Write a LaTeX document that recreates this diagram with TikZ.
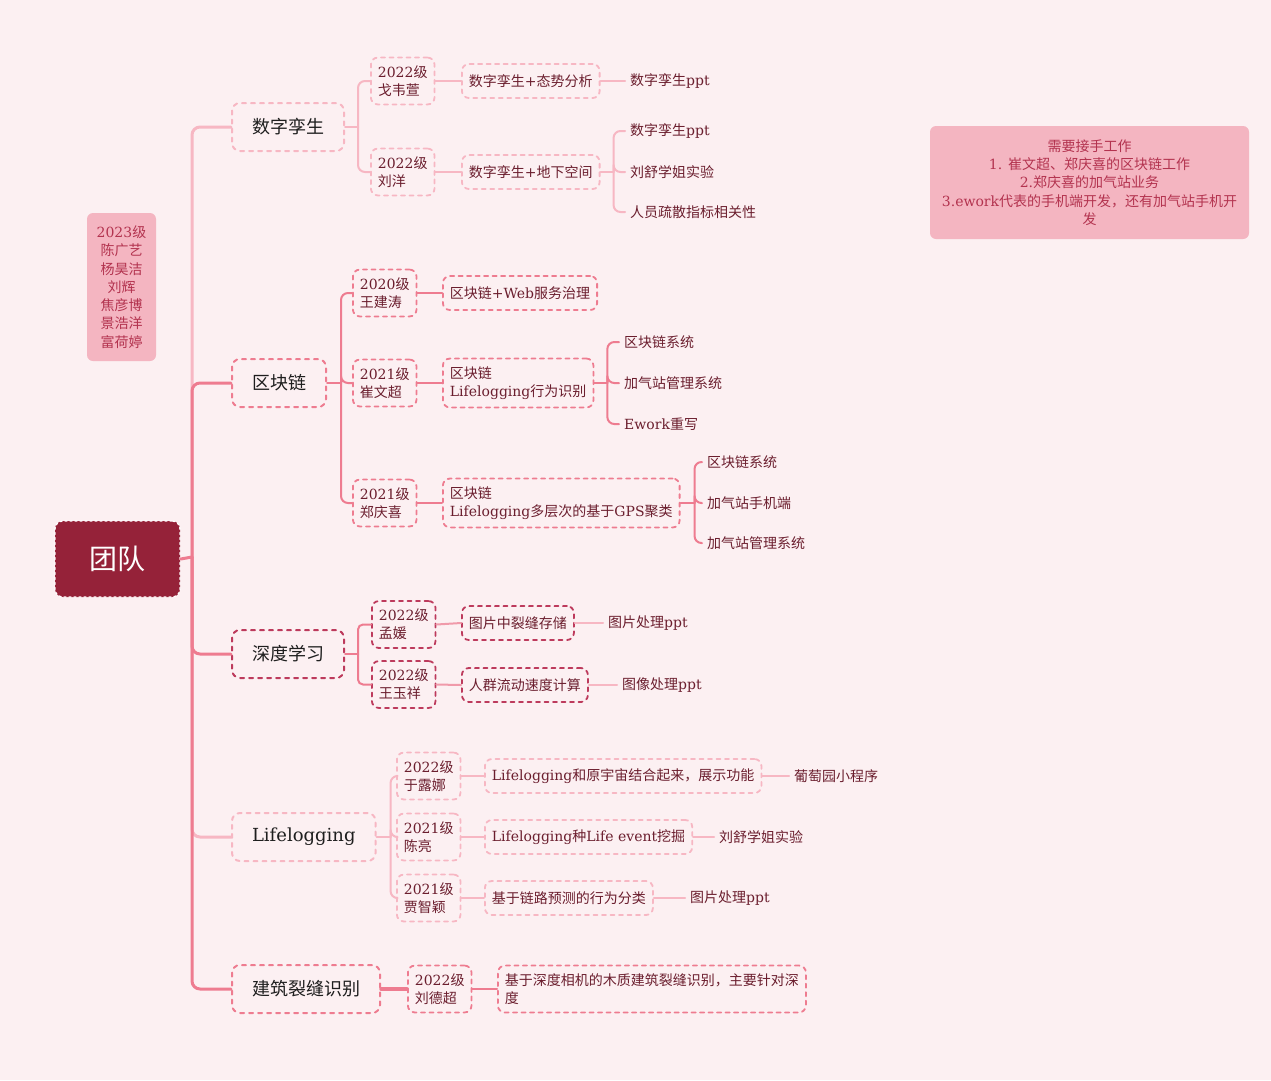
\documentclass[tikz,border=0pt]{standalone}
\usepackage{fontspec}
\usepackage{tikz}
\setmainfont{DejaVu Serif}
\newfontfamily\latfont{DejaVu Serif}
\newfontfamily\cjkfont{Noto Sans CJK SC}
% CJK characters switch to the CJK font by themselves
\XeTeXinterchartokenstate=1
\newXeTeXintercharclass\cjkclass
\newcount\cjkcode
\cjkcode="2E80
\loop\XeTeXcharclass\cjkcode=\cjkclass\advance\cjkcode by 1\ifnum\cjkcode<"A000\repeat
\cjkcode="FF00
\loop\XeTeXcharclass\cjkcode=\cjkclass\advance\cjkcode by 1\ifnum\cjkcode<"FFF0\repeat
\XeTeXinterchartoks 0 \cjkclass = {\cjkfont}
\XeTeXinterchartoks 4095 \cjkclass = {\cjkfont}
\XeTeXinterchartoks \cjkclass 0 = {\latfont}
\XeTeXinterchartoks \cjkclass 4095 = {\latfont}
\definecolor{bg}{HTML}{FCF0F2}
\definecolor{lightpk}{HTML}{F7B7C3}
\definecolor{midpk}{HTML}{F09AAA}
\definecolor{darkpk}{HTML}{EE7C90}
\definecolor{crim}{HTML}{BD3A5C}
\definecolor{rootred}{HTML}{952239}
\definecolor{notefill}{HTML}{F4B5C1}
\definecolor{notetxt}{HTML}{B3334F}
\definecolor{subtxt}{HTML}{6B1E2E}
\definecolor{maintxt}{HTML}{1E1E1E}

\begin{document}
\begin{tikzpicture}[x=1pt,y=-1pt,line cap=round,line join=round,
  root/.style={draw=white,fill=rootred,dash pattern=on 2pt off 3pt,line width=1.3pt,rounded corners=8pt,minimum width=125pt,minimum height=76pt,text=white,font=\fontsize{28}{32}\selectfont},
  note/.style={fill=notefill,rounded corners=6pt,align=center,text=notetxt,font=\fontsize{14}{18.3}\selectfont},
  mainbox/.style={draw=#1,dash pattern=on 4pt off 5pt,line width=2pt,rounded corners=8pt,inner xsep=20pt,minimum height=48pt,anchor=west,text=maintxt,font=\fontsize{18}{22}\selectfont},
  subbox/.style={draw=#1,dash pattern=on 4pt off 4.5pt,line width=1.8pt,rounded corners=7pt,inner xsep=7pt,inner ysep=8pt,minimum height=34pt,anchor=west,align=left,text=subtxt,font=\fontsize{14}{18}\selectfont},
  leaf/.style={inner xsep=5pt,inner ysep=2pt,anchor=west,text=subtxt,font=\fontsize{14}{18}\selectfont},
  trunk/.style={draw=#1,line width=3pt,rounded corners=8pt},
  lk/.style={draw=#1,line width=2pt,rounded corners=7pt}]
\fill[bg] (0,0) rectangle (1271,1080);
\useasboundingbox (0,0) rectangle (1271,1080);

\node[root] (team) at (117.5,559) {团队};
\node[note,minimum width=69pt,minimum height=148pt] (grade) at (121.5,287) {2023级\\陈广艺\\杨昊洁\\刘辉\\焦彦博\\景浩洋\\富荷婷};
\node[note,minimum width=319pt,minimum height=113pt] (todo) at (1089.5,182.5) {需要接手工作\\1. 崔文超、郑庆喜的区块链工作\\2.郑庆喜的加气站业务\\3.ework代表的手机端开发，还有加气站手机开\\发};

\node[mainbox=lightpk] (sz) at (231,127) {数字孪生};
\node[mainbox=darkpk] (qk) at (231,383) {区块链};
\node[mainbox=crim] (sd) at (231,654) {深度学习};
\node[mainbox=lightpk] (lf) at (231,837) {Lifelogging};
\node[mainbox=darkpk] (jz) at (231,989) {建筑裂缝识别};

\coordinate (tr) at (192,557);
\draw[trunk=lightpk] (tr) |- (sz.west);
\draw[trunk=lightpk] (tr) |- (lf.west);
\draw[trunk=darkpk] (tr) |- (qk.west);
\draw[trunk=darkpk] (tr) |- (sd.west);
\draw[trunk=darkpk] (tr) |- (jz.west);
\draw[trunk=darkpk] (team.east) -- (tr);

% 数字孪生
\node[subbox=lightpk] (sz1) at (370,81) {2022级\\戈韦萱};
\node[subbox=lightpk] (sz2) at (370,172) {2022级\\刘洋};
\node[subbox=lightpk] (sza) at (461,81) {数字孪生+态势分析};
\node[subbox=lightpk] (szb) at (461,172) {数字孪生+地下空间};
\node[leaf] (sza1) at (625,81) {数字孪生ppt};
\path (sz.east) ++(13,0) coordinate (szf);
\draw[lk=lightpk] (sz.east) -- (szf);
\foreach \c in {sz1,sz2} \draw[lk=lightpk] (szf) |- (\c.west);
\draw[lk=lightpk] (sz1.east) -- (sza.west);
\draw[lk=lightpk] (sz2.east) -- (szb.west);
\draw[lk=lightpk] (sza.east) -- (sza1.west);
\path (szb.east) ++(13,0) coordinate (szbf);
\draw[lk=lightpk] (szb.east) -- (szbf);
\foreach \n/\y/\t in {1/131/数字孪生ppt,2/172/刘舒学姐实验,3/212/人员疏散指标相关性}{
  \node[leaf] (szb\n) at (625,\y) {\t};
  \draw[lk=lightpk] (szbf) |- (szb\n.west);
}

% 区块链
\node[subbox=darkpk] (qk1) at (352,293) {2020级\\王建涛};
\node[subbox=darkpk] (qk2) at (352,383) {2021级\\崔文超};
\node[subbox=darkpk] (qk3) at (352,503) {2021级\\郑庆喜};
\node[subbox=darkpk] (qka) at (442,293) {区块链+Web服务治理};
\node[subbox=darkpk] (qkb) at (442,383) {区块链\\Lifelogging行为识别};
\node[subbox=darkpk] (qkc) at (442,503) {区块链\\Lifelogging多层次的基于GPS聚类};
\path (qk.east) ++(14,0) coordinate (qkf);
\draw[lk=darkpk] (qk.east) -- (qkf);
\foreach \c in {qk1,qk2,qk3} \draw[lk=darkpk] (qkf) |- (\c.west);
\draw[lk=darkpk] (qk1.east) -- (qka.west);
\draw[lk=darkpk] (qk2.east) -- (qkb.west);
\draw[lk=darkpk] (qk3.east) -- (qkc.west);
\path (qkb.east) ++(13,0) coordinate (qkbf);
\draw[lk=darkpk] (qkb.east) -- (qkbf);
\foreach \n/\y/\t in {1/342/区块链系统,2/383/加气站管理系统,3/424/Ework重写}{
  \node[leaf] (qkb\n) at (619,\y) {\t};
  \draw[lk=darkpk] (qkbf) |- (qkb\n.west);
}
\path (qkc.east) ++(14,0) coordinate (qkcf);
\draw[lk=darkpk] (qkc.east) -- (qkcf);
\foreach \n/\y/\t in {1/462/区块链系统,2/503/加气站手机端,3/543/加气站管理系统}{
  \node[leaf] (qkc\n) at (702,\y) {\t};
  \draw[lk=darkpk] (qkcf) |- (qkc\n.west);
}

% 深度学习
\node[subbox=crim] (sd1) at (371,624.5) {2022级\\孟媛};
\node[subbox=crim] (sd2) at (371,684.5) {2022级\\王玉祥};
\node[subbox=crim] (sda) at (461,623) {图片中裂缝存储};
\node[subbox=crim] (sdb) at (461,685) {人群流动速度计算};
\node[leaf] (sda1) at (603,623) {图片处理ppt};
\node[leaf] (sdb1) at (617,685) {图像处理ppt};
\path (sd.east) ++(13,0) coordinate (sdf);
\draw[lk=darkpk] (sd.east) -- (sdf);
\foreach \c in {sd1,sd2} \draw[lk=darkpk,rounded corners=5pt] (sdf) |- (\c.west);
\draw[lk=midpk] (sd1.east) -- (sda.west);
\draw[lk=midpk] (sd2.east) -- (sdb.west);
\draw[lk=lightpk] (sda.east) -- (sda1.west);
\draw[lk=lightpk] (sdb.east) -- (sdb1.west);

% Lifelogging
\node[subbox=lightpk] (lf1) at (396,776) {2022级\\于露娜};
\node[subbox=lightpk] (lf2) at (396,837) {2021级\\陈亮};
\node[subbox=lightpk] (lf3) at (396,898) {2021级\\贾智颖};
\node[subbox=lightpk] (lfa) at (484,776) {Lifelogging和原宇宙结合起来，展示功能};
\node[subbox=lightpk] (lfb) at (484,837) {Lifelogging种Life event挖掘};
\node[subbox=lightpk] (lfc) at (484,898) {基于链路预测的行为分类};
\node[leaf] (lfa1) at (789,776) {葡萄园小程序};
\node[leaf] (lfb1) at (714,837) {刘舒学姐实验};
\node[leaf] (lfc1) at (685,898) {图片处理ppt};
\path (lf.east) ++(14,0) coordinate (lff);
\draw[lk=lightpk] (lf.east) -- (lff);
\foreach \c in {lf1,lf2,lf3} \draw[lk=lightpk] (lff) |- (\c.west);
\foreach \a/\b in {lf1/lfa,lf2/lfb,lf3/lfc,lfa/lfa1,lfb/lfb1,lfc/lfc1}
  \draw[lk=lightpk] (\a.east) -- (\b.west);

% 建筑裂缝识别
\node[subbox=darkpk] (jz1) at (407,989) {2022级\\刘德超};
\node[subbox=darkpk] (jza) at (497,989) {基于深度相机的木质建筑裂缝识别，主要针对深\\度};
\draw[lk=darkpk,line width=3.5pt] (jz.east) -- (jz1.west);
\draw[lk=darkpk] (jz1.east) -- (jza.west);
\end{tikzpicture}
\end{document}
